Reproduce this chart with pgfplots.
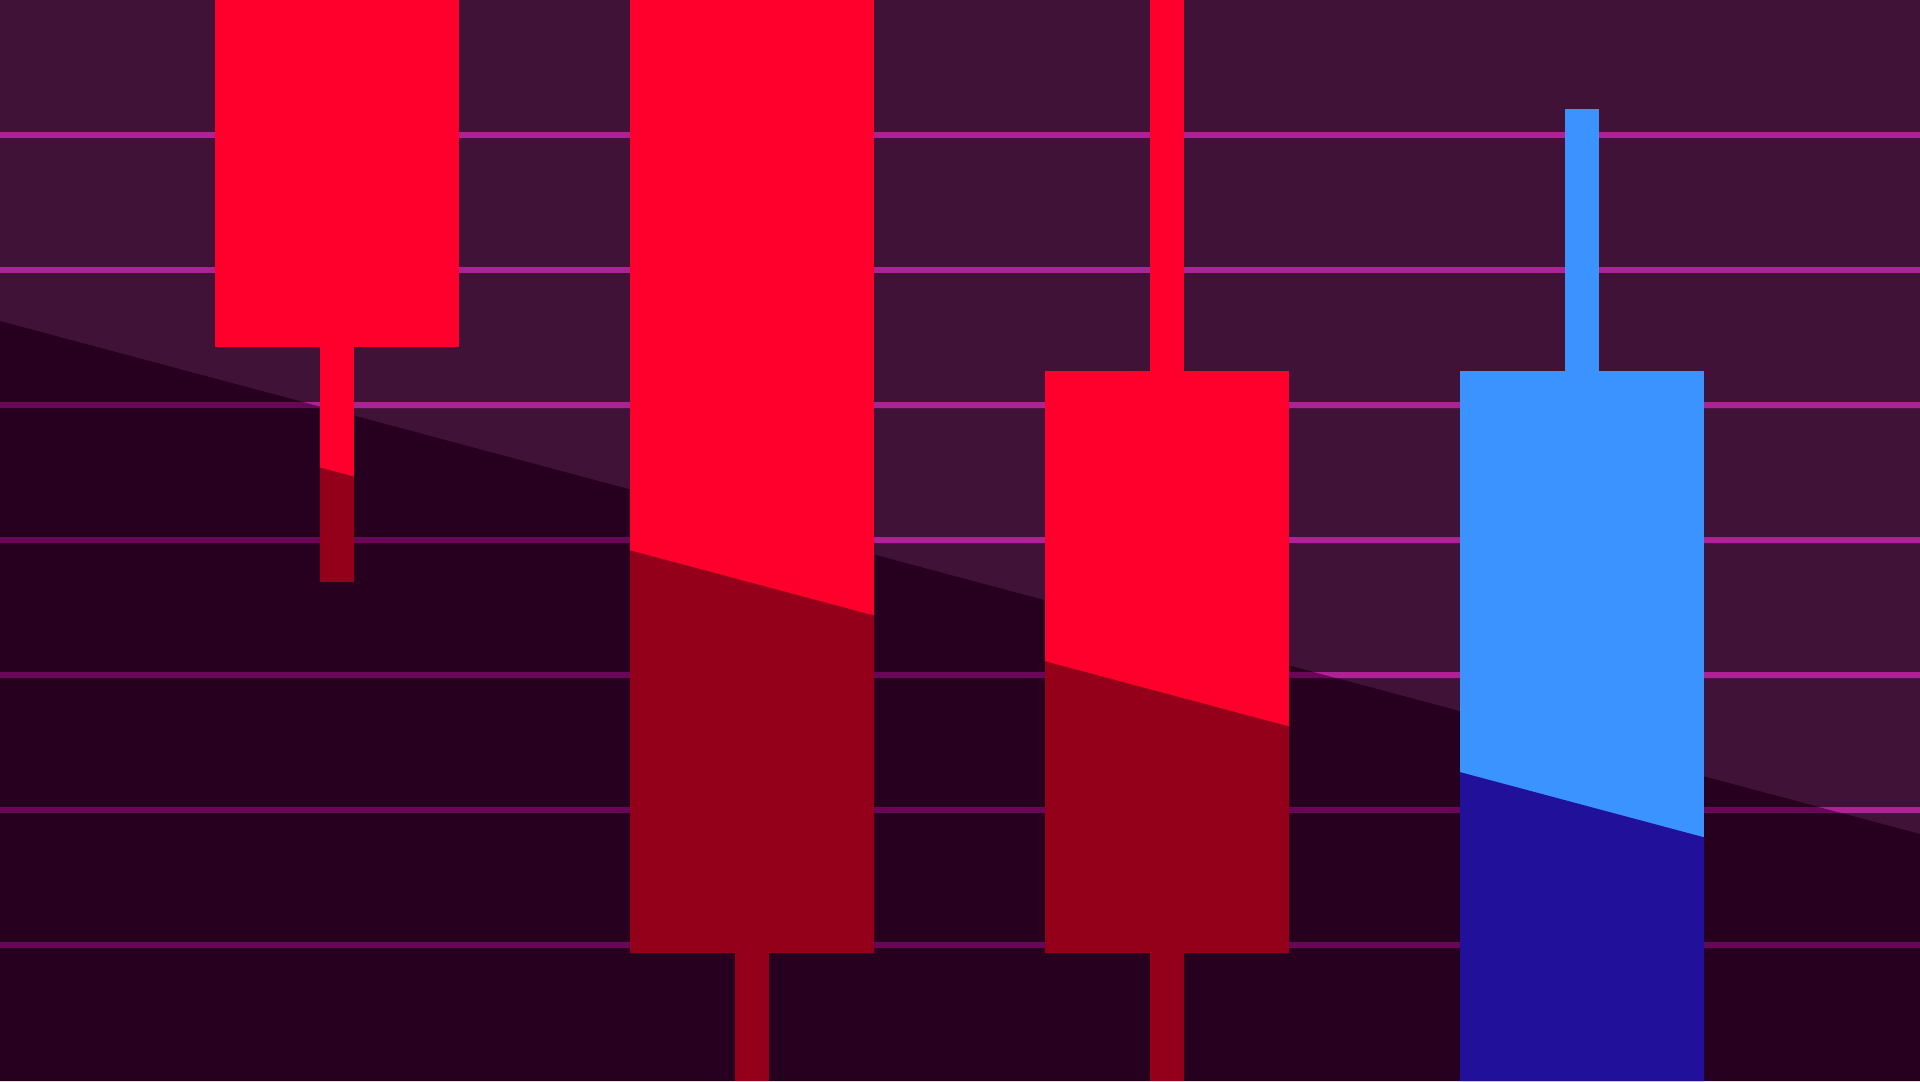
\documentclass[border=0pt]{standalone}
\usepackage{pgfplots}
\pgfplotsset{compat=1.18}
\definecolor{bgtop}{HTML}{411237}
\definecolor{bglow}{HTML}{270020}
\definecolor{gridhi}{HTML}{AE2296}
\definecolor{gridlo}{HTML}{6A0658}
\definecolor{upred}{HTML}{FF002D}
\definecolor{dkred}{HTML}{94001A}
\definecolor{upblue}{HTML}{3A93FF}
\definecolor{dkblue}{HTML}{20109A}
\begin{document}
\begin{tikzpicture}
\begin{axis}[
    width=1920bp, height=1081bp,
    scale only axis,
    hide axis,
    xmin=0, xmax=1920,
    ymin=0, ymax=1081,
    y dir=reverse,
    every axis plot/.append style={draw=none},
]
% background halves
\addplot[fill=bgtop] coordinates {(0,0) (1920,0) (1920,1081) (0,1081)} -- cycle;
\addplot[fill=bglow] coordinates {(0,321) (1920,834) (1920,1081) (0,1081)} -- cycle;

% dark grid lines (lower half)
\addplot[fill=gridlo] coordinates {(0,402) (1920,402) (1920,408) (0,408)} -- cycle;
\addplot[fill=gridlo] coordinates {(0,537) (1920,537) (1920,543) (0,543)} -- cycle;
\addplot[fill=gridlo] coordinates {(0,672) (1920,672) (1920,678) (0,678)} -- cycle;
\addplot[fill=gridlo] coordinates {(0,807) (1920,807) (1920,813) (0,813)} -- cycle;
\addplot[fill=gridlo] coordinates {(0,942) (1920,942) (1920,948) (0,948)} -- cycle;

% bright grid lines (upper half)
\addplot[fill=gridhi] coordinates {(0,132) (1920,132) (1920,138) (0,138)} -- cycle;
\addplot[fill=gridhi] coordinates {(0,267) (1920,267) (1920,273) (0,273)} -- cycle;
\addplot[fill=gridhi] coordinates {(303.1,402) (1920,402) (1920,408) (325.6,408)} -- cycle;
\addplot[fill=gridhi] coordinates {(808.4,537) (1920,537) (1920,543) (830.8,543)} -- cycle;
\addplot[fill=gridhi] coordinates {(1313.6,672) (1920,672) (1920,678) (1336.1,678)} -- cycle;
\addplot[fill=gridhi] coordinates {(1818.9,807) (1920,807) (1920,813) (1841.3,813)} -- cycle;

% candle 1 (red)
\addplot[fill=upred] coordinates {(215,0) (459,0) (459,347) (215,347)} -- cycle;
\addplot[fill=upred] coordinates {(320,347) (354,347) (354,582) (320,582)} -- cycle;
\addplot[fill=dkred] coordinates {(320,467.5) (354,476.6) (354,582) (320,582)} -- cycle;

% candle 2 (red)
\addplot[fill=upred] coordinates {(630,0) (874,0) (874,953) (630,953)} -- cycle;
\addplot[fill=dkred] coordinates {(630,550.3) (874,615.5) (874,953) (630,953)} -- cycle;
\addplot[fill=dkred] coordinates {(735,953) (769,953) (769,1081) (735,1081)} -- cycle;

% candle 3 (red)
\addplot[fill=upred] coordinates {(1150,0) (1184,0) (1184,371) (1150,371)} -- cycle;
\addplot[fill=upred] coordinates {(1045,371) (1289,371) (1289,953) (1045,953)} -- cycle;
\addplot[fill=dkred] coordinates {(1045,661.2) (1289,726.4) (1289,953) (1045,953)} -- cycle;
\addplot[fill=dkred] coordinates {(1150,953) (1184,953) (1184,1081) (1150,1081)} -- cycle;

% candle 4 (blue)
\addplot[fill=upblue] coordinates {(1565,109) (1599,109) (1599,371) (1565,371)} -- cycle;
\addplot[fill=upblue] coordinates {(1460,371) (1704,371) (1704,1081) (1460,1081)} -- cycle;
\addplot[fill=dkblue] coordinates {(1460,772.1) (1704,837.3) (1704,1081) (1460,1081)} -- cycle;
\end{axis}
\end{tikzpicture}
\end{document}
